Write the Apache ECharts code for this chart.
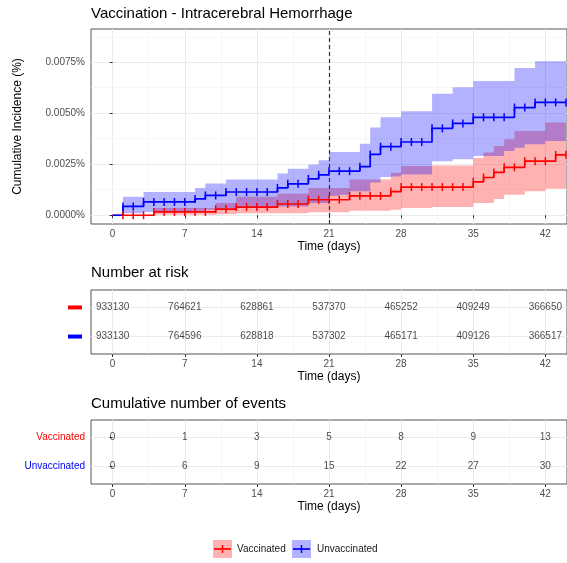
<!DOCTYPE html>
<html>
<head>
<meta charset="utf-8">
<title>Vaccination - Intracerebral Hemorrhage</title>
<script src="https://cdn.jsdelivr.net/npm/echarts@6/dist/echarts.min.js"></script>
<style>
  html, body { margin: 0; padding: 0; background: #fff; }
  #chart { width: 567px; height: 563px; }
</style>
</head>
<body>
<div id="chart"></div>
<script>
// days of follow-up, one value per day (step curves)
var days = [0, 1, 2, 3, 4, 5, 6, 7, 8, 9, 10, 11, 12, 13, 14, 15, 16, 17, 18, 19, 20, 21,
  22, 23, 24, 25, 26, 27, 28, 29, 30, 31, 32, 33, 34, 35, 36, 37, 38, 39, 40, 41, 42, 43, 44];

// cumulative incidence in %
var vaccinated = [0, 0, 0, 0, 0.00016, 0.00016, 0.00016, 0.00016, 0.00016, 0.00016,
  0.0003, 0.0003, 0.0004, 0.0004, 0.0004, 0.0004, 0.00055, 0.00055, 0.00055, 0.00076,
  0.00076, 0.00076, 0.00076, 0.00095, 0.00095, 0.00095, 0.00095, 0.00116, 0.00138, 0.00138,
  0.00138, 0.00138, 0.00138, 0.00138, 0.00138, 0.00164, 0.00185, 0.0021, 0.00235, 0.00235,
  0.00265, 0.00265, 0.00265, 0.00296, 0.00296];
var vaccinatedLow = [0, 0, 0, 0, 0.00002, 0.00002, 0.00002, 0.00002, 0.00002, 0.00002,
  0.00005, 0.00005, 0.0001, 0.0001, 0.0001, 0.0001, 0.0001, 0.0001, 0.0001, 0.00014,
  0.00014, 0.00014, 0.00014, 0.00022, 0.00022, 0.00022, 0.00022, 0.00027, 0.00035, 0.00035,
  0.00035, 0.0004, 0.0004, 0.0004, 0.0004, 0.0006, 0.0006, 0.0008, 0.001, 0.001,
  0.00117, 0.00117, 0.0013, 0.0013, 0.0013];
var vaccinatedUp = [0, 0, 0, 0, 0.00035, 0.00035, 0.00035, 0.00035, 0.00035, 0.00035,
  0.0006, 0.0006, 0.0009, 0.0009, 0.0009, 0.0009, 0.00105, 0.00105, 0.00105, 0.00134,
  0.00134, 0.00134, 0.00134, 0.00175, 0.00175, 0.00175, 0.00175, 0.00208, 0.00241, 0.00241,
  0.00241, 0.00244, 0.00244, 0.00244, 0.00244, 0.0028, 0.00307, 0.00339, 0.00372, 0.00413,
  0.00413, 0.00413, 0.00455, 0.00455, 0.00455];

var unvaccinated = [0, 0.00043, 0.00043, 0.00065, 0.00065, 0.00065, 0.00065, 0.00065, 0.0008, 0.00097,
  0.00097, 0.00114, 0.00114, 0.00114, 0.00114, 0.00114, 0.00134, 0.00154, 0.00154, 0.00178,
  0.00198, 0.00216, 0.00216, 0.00216, 0.00238, 0.00298, 0.00336, 0.00336, 0.00359, 0.00359,
  0.00359, 0.00426, 0.00426, 0.0045, 0.0045, 0.0048, 0.0048, 0.0048, 0.0048, 0.00528,
  0.00528, 0.00553, 0.00553, 0.00553, 0.00553];
var unvaccinatedLow = [0, 0.0001, 0.0001, 0.00016, 0.00019, 0.00019, 0.00019, 0.00019, 0.00022, 0.00027,
  0.00027, 0.00035, 0.00035, 0.00035, 0.00035, 0.00035, 0.00043, 0.00043, 0.00043, 0.0006,
  0.0006, 0.00095, 0.00101, 0.00117, 0.00117, 0.0016, 0.00188, 0.0019, 0.002, 0.002,
  0.002, 0.00265, 0.00265, 0.00274, 0.00274, 0.0029, 0.0029, 0.0029, 0.00315, 0.00331,
  0.00348, 0.00348, 0.00364, 0.00364, 0.00364];
var unvaccinatedUp = [0, 0.0009, 0.0009, 0.00114, 0.00114, 0.00114, 0.00114, 0.00114, 0.00134, 0.00155,
  0.00155, 0.00175, 0.00175, 0.00175, 0.00175, 0.00175, 0.00205, 0.00228, 0.00228, 0.00249,
  0.0027, 0.0031, 0.0031, 0.0031, 0.0035, 0.0043, 0.0048, 0.0048, 0.0051, 0.0051,
  0.0051, 0.00595, 0.00595, 0.00627, 0.00627, 0.00658, 0.00658, 0.00658, 0.00658, 0.00722,
  0.00722, 0.00755, 0.00755, 0.00755, 0.00755];

// tables
var tableDays = [0, 7, 14, 21, 28, 35, 42];
var riskVaccinated = [933130, 764621, 628861, 537370, 465252, 409249, 366650];
var riskUnvaccinated = [933130, 764596, 628818, 537302, 465171, 409126, 366517];
var eventsVaccinated = [0, 1, 3, 5, 8, 9, 13];
var eventsUnvaccinated = [0, 6, 9, 15, 22, 27, 30];

// axis ticks
var xTicks = [0, 7, 14, 21, 28, 35, 42];
var xMinorTicks = [3.5, 10.5, 17.5, 24.5, 31.5, 38.5];
var yTicks = [0, 0.0025, 0.005, 0.0075];
var yTickLabels = ['0.0000%', '0.0025%', '0.0050%', '0.0075%'];
var yMinorTicks = [0.00125, 0.00375, 0.00625, 0.00875];

var FONT = '"Liberation Sans", Arial, sans-serif';
var RED = '#FF0000';
var BLUE = '#0000FF';
var BORDER = '#555';

function pairs(ys) {
  return days.map(function (d, i) { return [d, ys[i]]; });
}

function xMajor(grid) {
  return {
    type: 'value', gridIndex: grid, min: -2.1, max: 44.1,
    axisLine: { show: false },
    axisTick: { show: true, length: 3, customValues: xTicks, lineStyle: { color: '#333', width: 1 } },
    axisLabel: { customValues: xTicks, margin: 5, color: '#4d4d4d', fontSize: 10, fontFamily: FONT },
    splitLine: { show: true, lineStyle: { color: '#ebebeb', width: 1 } },
    name: 'Time (days)', nameLocation: 'middle', nameGap: 17,
    nameTextStyle: { color: '#000', fontSize: 12, fontFamily: FONT }
  };
}
function xMinor(grid) {
  return {
    type: 'value', gridIndex: grid, min: -2.1, max: 44.1, position: 'bottom',
    axisLine: { show: false },
    axisTick: { show: false, customValues: xMinorTicks },
    axisLabel: { show: false },
    splitLine: { show: true, lineStyle: { color: '#f2f2f2', width: 0.6 } }
  };
}

// confidence ribbon: one step-shaped polygon built from all rows of the series
function ribbon(name, low, up, color) {
  return {
    name: name + ' CI', type: 'custom', silent: true, z: 1,
    encode: { x: 0, y: [1, 2] },
    data: days.map(function (d, i) { return [d, low[i], up[i]]; }),
    renderItem: function (params, api) {
      if (params.dataIndexInside !== 0) return null;
      var n = params.dataInsideLength;
      var top = [], bottom = [];
      for (var j = 0; j < n; j++) {
        var x0 = api.value(0, j);
        var x1 = j < n - 1 ? api.value(0, j + 1) : x0;
        top.push(api.coord([x0, api.value(2, j)]), api.coord([x1, api.value(2, j)]));
        bottom.push(api.coord([x0, api.value(1, j)]), api.coord([x1, api.value(1, j)]));
      }
      return {
        type: 'polygon',
        shape: { points: top.concat(bottom.reverse()) },
        style: { fill: color, stroke: null }
      };
    }
  };
}

function curve(name, ys, color) {
  return {
    name: name, type: 'line', step: 'end', data: pairs(ys), z: 3,
    symbol: function (v) { return v[0] === 0 ? 'none' : 'rect'; },
    symbolSize: [1.5, 8], showAllSymbol: true,
    itemStyle: { color: color },
    lineStyle: { color: color, width: 1.7 }
  };
}

function tableRow(axis, vals, row) {
  return {
    type: 'scatter', xAxisIndex: axis.x, yAxisIndex: axis.y,
    symbolSize: 1, itemStyle: { color: 'rgba(0,0,0,0)' }, silent: true,
    label: {
      show: true, position: 'inside', color: '#1a1a1a', fontSize: 10, fontFamily: FONT,
      formatter: function (p) { return String(p.value[2]); }
    },
    data: tableDays.map(function (d, i) { return [d, row, vals[i]]; })
  };
}

var chart = echarts.init(document.getElementById('chart'), null, { renderer: 'canvas' });

var series = [
  ribbon('Vaccinated', vaccinatedLow, vaccinatedUp, 'rgba(255,0,0,0.3)'),
  ribbon('Unvaccinated', unvaccinatedLow, unvaccinatedUp, 'rgba(0,0,255,0.3)'),
  curve('Vaccinated', vaccinated, RED)
];
var uv = curve('Unvaccinated', unvaccinated, BLUE);
uv.markLine = {
  symbol: 'none', silent: true, label: { show: false },
  lineStyle: { color: '#333', type: [4, 3], width: 1.2 },
  data: [{ xAxis: 21 }]
};
series.push(uv);
series.push(tableRow({ x: 2, y: 2 }, riskVaccinated, 2));
series.push(tableRow({ x: 2, y: 2 }, riskUnvaccinated, 1));
series.push(tableRow({ x: 4, y: 3 }, eventsVaccinated, 2));
series.push(tableRow({ x: 4, y: 3 }, eventsUnvaccinated, 1));

var option = {
  animation: false,
  textStyle: { fontFamily: FONT },
  title: [
    { text: 'Vaccination - Intracerebral Hemorrhage', left: 91, top: 5, padding: 0,
      textStyle: { fontSize: 15, fontWeight: 'normal', color: '#000', lineHeight: 18, fontFamily: FONT } },
    { text: 'Number at risk', left: 91, top: 264, padding: 0,
      textStyle: { fontSize: 15, fontWeight: 'normal', color: '#000', lineHeight: 18, fontFamily: FONT } },
    { text: 'Cumulative number of events', left: 91, top: 395, padding: 0,
      textStyle: { fontSize: 15, fontWeight: 'normal', color: '#000', lineHeight: 18, fontFamily: FONT } }
  ],
  grid: [
    { left: 91, top: 29, width: 483, height: 195, show: true, borderColor: BORDER, borderWidth: 1, backgroundColor: '#fff' },
    { left: 91, top: 290, width: 483, height: 64, show: true, borderColor: BORDER, borderWidth: 1, backgroundColor: '#fff' },
    { left: 91, top: 420, width: 483, height: 64, show: true, borderColor: BORDER, borderWidth: 1, backgroundColor: '#fff' }
  ],
  xAxis: [xMajor(0), xMinor(0), xMajor(1), xMinor(1), xMajor(2), xMinor(2)],
  yAxis: [
    {
      type: 'value', gridIndex: 0, min: -0.00043, max: 0.00913,
      axisLine: { show: false },
      axisTick: { show: true, length: 3, customValues: yTicks, lineStyle: { color: '#333' } },
      axisLabel: {
        customValues: yTicks, margin: 6, color: '#4d4d4d', fontSize: 10, fontFamily: FONT,
        formatter: function (v) {
          var best = 0;
          yTicks.forEach(function (t, i) { if (Math.abs(t - v) < Math.abs(yTicks[best] - v)) best = i; });
          return yTickLabels[best];
        }
      },
      splitLine: { show: true, lineStyle: { color: '#ebebeb', width: 1 } },
      name: 'Cumulative Incidence (%)', nameLocation: 'middle', nameGap: 67, nameRotate: 90,
      nameTextStyle: { color: '#000', fontSize: 12, fontFamily: FONT }
    },
    {
      type: 'value', gridIndex: 0, min: -0.00043, max: 0.00913, position: 'left',
      axisLine: { show: false },
      axisTick: { show: false, customValues: yMinorTicks },
      axisLabel: { show: false },
      splitLine: { show: true, lineStyle: { color: '#f2f2f2', width: 0.6 } }
    },
    {
      type: 'value', gridIndex: 1, min: 0.4, max: 2.6,
      axisLine: { show: false },
      axisTick: { show: false, customValues: [1, 2] },
      axisLabel: {
        customValues: [1, 2], margin: 9,
        formatter: function (v) { return v > 1.5 ? '{r|}' : '{b|}'; },
        rich: {
          r: { width: 14, height: 4, backgroundColor: RED },
          b: { width: 14, height: 4, backgroundColor: BLUE }
        }
      },
      splitLine: { show: true, lineStyle: { color: '#ebebeb', width: 1 } }
    },
    {
      type: 'value', gridIndex: 2, min: 0.4, max: 2.6,
      axisLine: { show: false },
      axisTick: { show: true, length: 3, customValues: [1, 2], lineStyle: { color: '#333' } },
      axisLabel: {
        customValues: [1, 2], margin: 6, fontSize: 10, fontFamily: FONT,
        formatter: function (v) { return v > 1.5 ? '{v|Vaccinated}' : '{u|Unvaccinated}'; },
        rich: {
          v: { color: RED, fontSize: 10, fontFamily: FONT },
          u: { color: BLUE, fontSize: 10, fontFamily: FONT }
        }
      },
      splitLine: { show: true, lineStyle: { color: '#ebebeb', width: 1 } }
    }
  ],
  series: series,
  // legend keys (ribbon fill + censor cross)
  graphic: [
    { type: 'rect', shape: { x: 213, y: 540, width: 19, height: 18 }, style: { fill: 'rgba(255,0,0,0.3)' } },
    { type: 'line', shape: { x1: 214, y1: 549, x2: 231, y2: 549 }, style: { stroke: RED, lineWidth: 1.7 } },
    { type: 'line', shape: { x1: 222.5, y1: 545, x2: 222.5, y2: 553 }, style: { stroke: RED, lineWidth: 1.5 } },
    { type: 'text', x: 237, y: 549, style: { text: 'Vaccinated', fontSize: 10, fontFamily: FONT, fill: '#1a1a1a', verticalAlign: 'middle' } },
    { type: 'rect', shape: { x: 292, y: 540, width: 19, height: 18 }, style: { fill: 'rgba(0,0,255,0.3)' } },
    { type: 'line', shape: { x1: 293, y1: 549, x2: 310, y2: 549 }, style: { stroke: BLUE, lineWidth: 1.7 } },
    { type: 'line', shape: { x1: 301.5, y1: 545, x2: 301.5, y2: 553 }, style: { stroke: BLUE, lineWidth: 1.5 } },
    { type: 'text', x: 317, y: 549, style: { text: 'Unvaccinated', fontSize: 10, fontFamily: FONT, fill: '#1a1a1a', verticalAlign: 'middle' } }
  ]
};

chart.setOption(option);
</script>
</body>
</html>
